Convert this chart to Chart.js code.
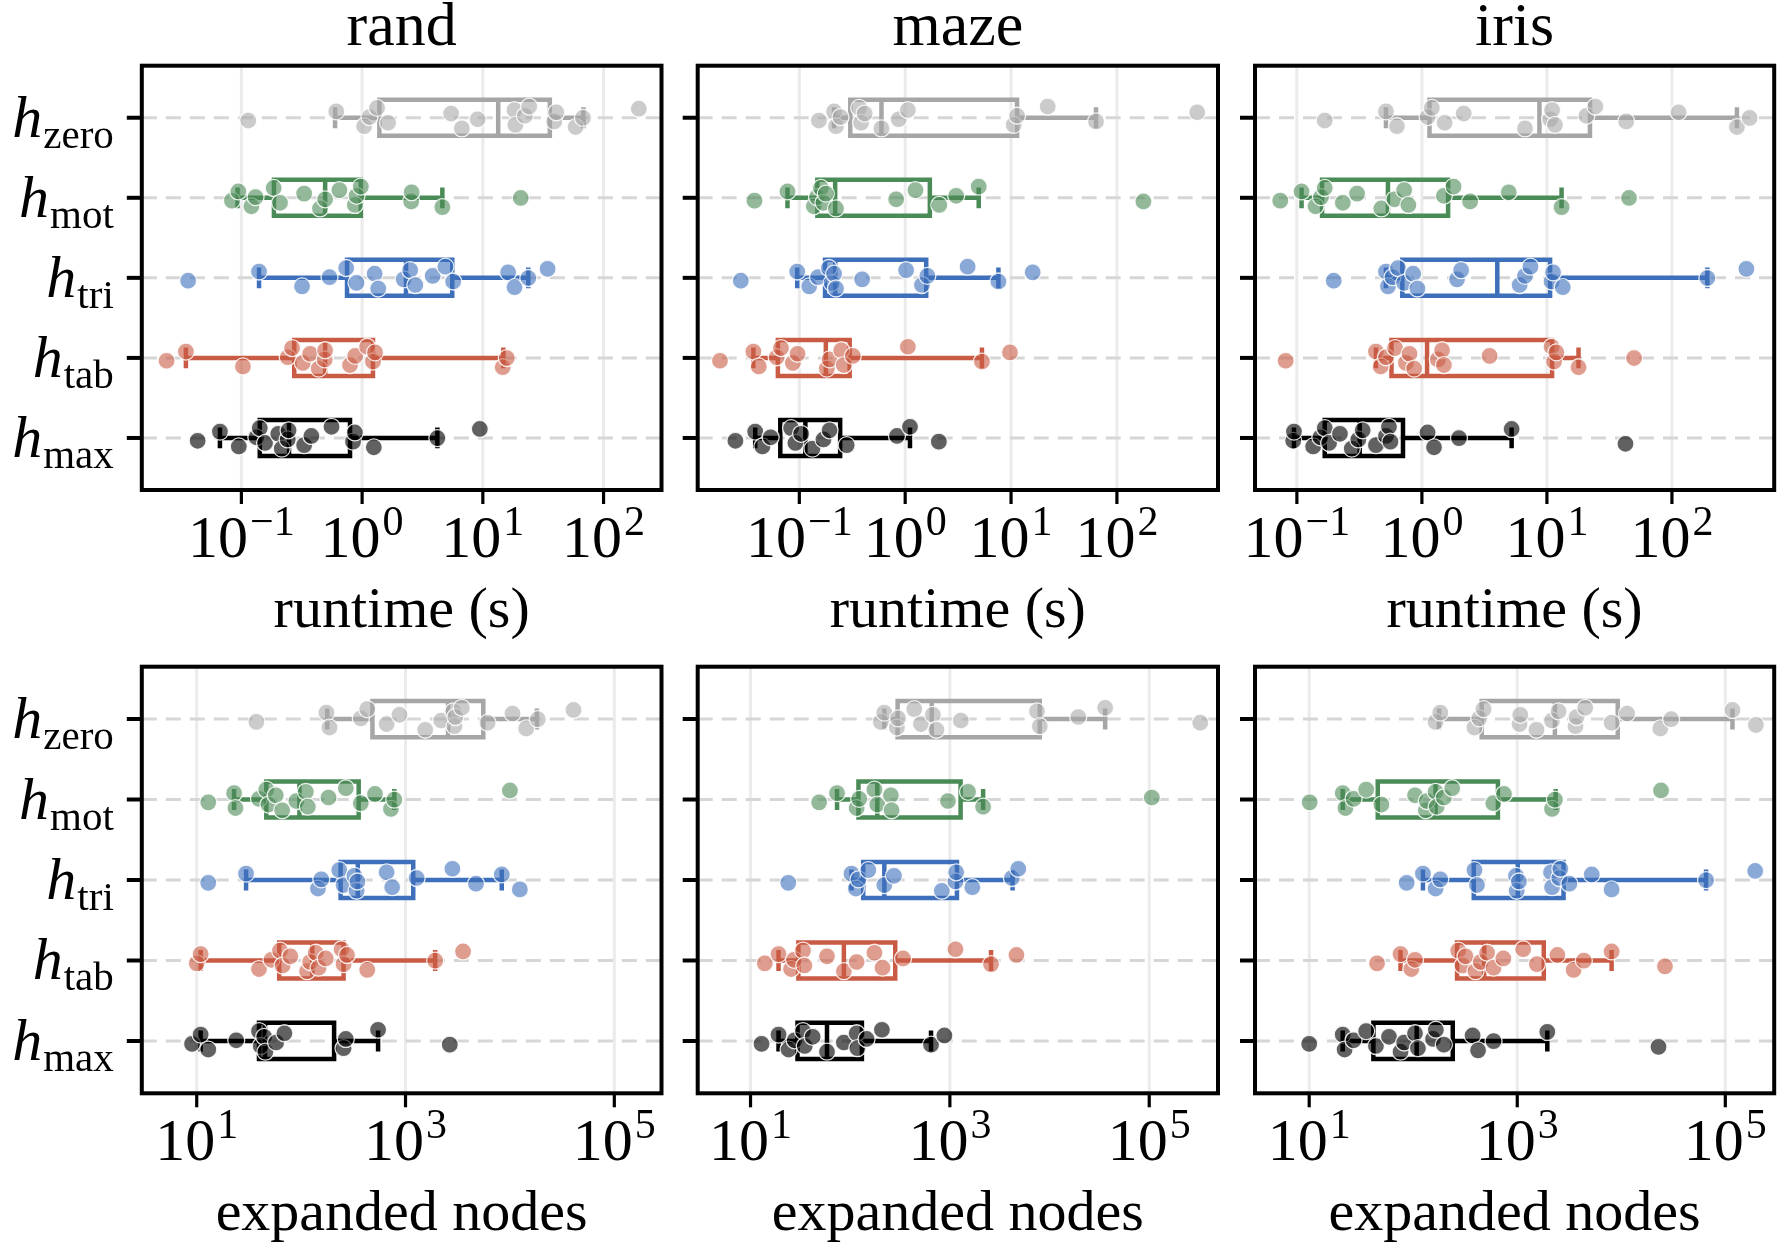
<!DOCTYPE html>
<html>
<head>
<meta charset="utf-8">
<script src="https://cdn.jsdelivr.net/npm/chart.js@4.4.1/dist/chart.umd.min.js"></script>
<style>
  html, body { margin: 0; padding: 0; background: #fff; }
  #wrap { position: relative; width: 1784px; height: 1246px; }
  #wrap canvas { position: absolute; left: 0; top: 0; }
</style>
</head>
<body>
<div id="wrap"></div>
<script>
// heuristics, top to bottom
var heuristics = ['zero', 'mot', 'tri', 'tab', 'max'];
var runtimeTickExps = [-1, 0, 1, 2];
var nodesTickExps = [1, 3, 5];

// runtime (s), one list per heuristic
var randRuntime = [
  [0.114, 0.611, 1.04, 1.15, 1.33, 1.64, 5.46, 6.70, 9.06, 18.3, 18.6, 22.3, 24.2, 39.0, 40.6, 58.7, 67.5, 196],
  [0.0835, 0.0944, 0.121, 0.131, 0.185, 0.209, 0.331, 0.448, 0.494, 0.648, 0.871, 0.899, 0.976, 2.55, 2.57, 4.62, 20.6],
  [0.0362, 0.140, 0.318, 0.537, 0.738, 0.899, 1.27, 1.36, 2.21, 2.50, 2.76, 3.84, 4.90, 5.68, 16.2, 18.3, 23.8, 34.4],
  [0.0240, 0.0347, 0.103, 0.242, 0.263, 0.323, 0.371, 0.437, 0.490, 0.494, 0.794, 0.877, 1.10, 1.23, 1.28, 14.6, 15.8],
  [0.0434, 0.0664, 0.0952, 0.133, 0.142, 0.157, 0.202, 0.216, 0.242, 0.246, 0.331, 0.380, 0.558, 0.841, 0.871, 1.25, 4.20, 9.44]
];
var mazeRuntime = [
  [0.153, 0.213, 0.222, 0.245, 0.368, 0.383, 0.414, 0.597, 0.869, 1.06, 10.6, 11.4, 22.2, 63.5, 574],
  [0.0377, 0.0773, 0.137, 0.147, 0.160, 0.169, 0.178, 0.222, 0.822, 1.25, 2.10, 3.03, 4.95, 178],
  [0.0280, 0.0955, 0.124, 0.150, 0.190, 0.202, 0.213, 0.222, 0.392, 1.02, 1.44, 1.62, 3.89, 7.60, 16.0],
  [0.0178, 0.0368, 0.0414, 0.0611, 0.0671, 0.0869, 0.0962, 0.182, 0.193, 0.249, 0.263, 0.320, 1.06, 5.31, 9.77],
  [0.0249, 0.0383, 0.0448, 0.0536, 0.0836, 0.0918, 0.104, 0.133, 0.169, 0.193, 0.280, 0.836, 1.11, 2.08]
];
var irisRuntime = [
  [0.167, 0.516, 0.631, 1.11, 1.20, 1.52, 2.16, 6.68, 10.6, 11.0, 11.6, 20.7, 24.4, 43.1, 113, 331, 418],
  [0.0736, 0.109, 0.141, 0.156, 0.167, 0.233, 0.303, 0.474, 0.603, 0.721, 0.780, 1.50, 1.79, 2.43, 4.95, 13.1, 45.4],
  [0.197, 0.516, 0.535, 0.582, 0.644, 0.721, 0.851, 0.921, 1.91, 2.06, 6.05, 6.68, 7.38, 10.9, 11.2, 13.4, 192, 394],
  [0.0813, 0.429, 0.468, 0.516, 0.610, 0.745, 0.796, 0.867, 1.34, 1.45, 1.50, 3.48, 10.9, 11.4, 11.9, 17.9, 49.8],
  [0.0935, 0.0948, 0.135, 0.154, 0.167, 0.181, 0.221, 0.275, 0.310, 0.336, 0.429, 0.516, 0.545, 0.560, 1.11, 1.25, 1.98, 5.22, 42.5]
];

// expanded nodes, one list per heuristic
var randNodes = [
  [37.3, 175, 187, 373, 430, 659, 875, 1545, 2200, 2864, 2944, 3000, 3459, 6109, 10590, 14330, 18500, 40640],
  [12.9, 22.8, 23.5, 39.5, 46.4, 48.7, 57.2, 65.9, 90.1, 111, 116, 183, 268, 373, 510, 725, 781, 10000],
  [12.9, 29.7, 145, 156, 232, 255, 324, 340, 346, 659, 745, 1279, 2811, 4732, 8356, 12450],
  [10.0, 10.9, 39.5, 52.0, 62.8, 66.5, 78.9, 114, 122, 138, 147, 172, 244, 255, 275, 430, 1923, 3559],
  [9.02, 10.9, 12.9, 23.9, 39.5, 41.0, 44.3, 45.5, 57.7, 69.2, 255, 268, 546, 2655]
];
var mazeNodes = [
  [203, 220, 294, 302, 439, 513, 675, 733, 1288, 7482, 7980, 19410, 36140, 325100],
  [48.8, 73.8, 116, 123, 175, 187, 256, 260, 957, 1521, 2155, 106200],
  [23.9, 103, 114, 121, 152, 220, 275, 830, 1138, 1157, 1680, 4188, 4856],
  [13.9, 19.1, 25.5, 27.3, 33.6, 34.7, 58.5, 86.4, 116, 175, 211, 339, 1138, 2588, 4656],
  [12.9, 19.1, 24.1, 27.7, 33.6, 35.0, 42.0, 58.5, 86.4, 116, 118, 146, 208, 647, 881]
];
var irisNodes = [
  [164, 182, 388, 431, 474, 1052, 1069, 1531, 2159, 2494, 3630, 3717, 4500, 8073, 11380, 23720, 30150, 117200, 196800],
  [10.1, 21.0, 22.3, 26.7, 35.3, 49.4, 104, 132, 135, 164, 168, 197, 237, 588, 746, 2159, 2301, 24100],
  [86.5, 124, 164, 182, 388, 410, 972, 988, 1037, 2109, 2159, 2535, 2596, 3170, 5202, 8073, 65330, 193700],
  [44.9, 75.5, 95.9, 104, 271, 298, 318, 397, 445, 513, 592, 735, 1140, 1545, 2432, 3483, 4365, 8073, 26300],
  [10.0, 21.0, 21.9, 26.7, 35.3, 43.8, 58.5, 75.5, 81.8, 104, 111, 155, 165, 197, 372, 420, 592, 1945, 22800]
];

// box stats: [whisker low, q1, median, q3, whisker high]
var randRuntimeBox = [[0.597, 1.39, 13.4, 35.9, 68.1], [0.0929, 0.186, 0.494, 0.976, 4.62], [0.140, 0.750, 2.31, 5.58, 23.8], [0.0347, 0.274, 0.494, 1.23, 14.8], [0.0664, 0.142, 0.248, 0.794, 4.20]];
var mazeRuntimeBox = [[0.213, 0.303, 0.597, 11.4, 63.5], [0.0773, 0.148, 0.218, 1.71, 4.95], [0.0955, 0.175, 0.218, 1.58, 7.60], [0.0368, 0.0627, 0.178, 0.299, 5.31], [0.0383, 0.0661, 0.114, 0.243, 1.11]];
var irisRuntimeBox = [[0.516, 1.15, 8.71, 22.1, 331], [0.109, 0.159, 0.535, 1.62, 13.1], [0.516, 0.697, 4.01, 10.6, 192], [0.429, 0.571, 1.10, 11.0, 17.9], [0.0948, 0.167, 0.318, 0.706, 5.22]];
var randNodesBox = [[178, 482, 2553, 5559, 18150], [22.8, 46.4, 96.4, 356, 781], [29.7, 239, 349, 1186, 8356], [10.9, 61.7, 128, 255, 1923], [10.9, 39.5, 45.1, 207, 546]];
var mazeNodesBox = [[220, 299, 658, 7980, 36140], [73.8, 121, 187, 1281, 2155], [103, 135, 220, 1177, 4256], [19.1, 30.2, 86.4, 283, 2588], [19.1, 29.6, 58.5, 131, 647]];
var irisNodesBox = [[177, 455, 2301, 9250, 117200], [21.0, 45.6, 164, 652, 2339], [124, 382, 1012, 2786, 65330], [75.5, 264, 481, 1799, 8073], [21.0, 41.4, 108, 240, 1945]];

var W = 1784, H = 1246;
var FONT = '"Liberation Serif", "DejaVu Serif", serif';
var boxColors = ['#a6a6a6', '#4b8b57', '#3e6fba', '#c95b45', '#000000'];
var dotColors = ['rgba(168,168,168,0.6)', 'rgba(75,139,87,0.6)', 'rgba(62,111,186,0.6)', 'rgba(201,91,69,0.6)', 'rgba(0,0,0,0.62)'];
var BH = 0.225, CAP = 0.13;

// deterministic strip jitter
function jit(k) {
  return (((k + 1) * 0.6180339887) % 1 - 0.5) * 0.3;
}

function boxPath(b, i) {
  var lo = b[0], q1 = b[1], med = b[2], q3 = b[3], hi = b[4];
  var gap = {x: med, y: null};
  return [
    {x: q1, y: i - BH}, {x: q3, y: i - BH}, {x: q3, y: i + BH}, {x: q1, y: i + BH}, {x: q1, y: i - BH}, {x: q3, y: i - BH}, gap,
    {x: med, y: i - BH}, {x: med, y: i + BH}, gap,
    {x: lo, y: i}, {x: q1, y: i}, gap,
    {x: q3, y: i}, {x: hi, y: i}, gap,
    {x: lo, y: i - CAP}, {x: lo, y: i + CAP}, gap,
    {x: hi, y: i - CAP}, {x: hi, y: i + CAP}
  ];
}

function line(ctx, x1, y1, x2, y2) {
  ctx.beginPath(); ctx.moveTo(x1, y1); ctx.lineTo(x2, y2); ctx.stroke();
}

var panelDecor = {
  id: 'panelDecor',
  beforeDatasetsDraw: function(chart, args, o) {
    var ctx = chart.ctx, a = chart.chartArea, x = chart.scales.x, y = chart.scales.y;
    ctx.save();
    ctx.strokeStyle = '#ebebeb'; ctx.lineWidth = 3;
    o.ticks.forEach(function(e) {
      var px = x.getPixelForValue(Math.pow(10, e));
      line(ctx, px, a.top, px, a.bottom);
    });
    ctx.strokeStyle = '#d6d6d6'; ctx.lineWidth = 3; ctx.setLineDash([15, 9]);
    heuristics.forEach(function(h, i) {
      var py = y.getPixelForValue(i);
      line(ctx, a.left, py, a.right, py);
    });
    ctx.restore();
  },
  afterDraw: function(chart, args, o) {
    var ctx = chart.ctx, a = chart.chartArea, x = chart.scales.x, y = chart.scales.y;
    ctx.save();
    ctx.strokeStyle = '#000'; ctx.fillStyle = '#000';
    ctx.lineWidth = 4;
    ctx.strokeRect(a.left, a.top, a.right - a.left, a.bottom - a.top);
    // tick marks
    ctx.lineWidth = 3.2;
    o.ticks.forEach(function(e) {
      var px = x.getPixelForValue(Math.pow(10, e));
      line(ctx, px, a.bottom, px, a.bottom + 14);
    });
    ctx.lineWidth = 4;
    heuristics.forEach(function(h, i) {
      var py = y.getPixelForValue(i);
      line(ctx, a.left - 15, py, a.left, py);
    });
    // x tick labels 10^e
    ctx.textBaseline = 'alphabetic'; ctx.textAlign = 'left';
    o.ticks.forEach(function(e) {
      var px = x.getPixelForValue(Math.pow(10, e));
      var base = '10', sup = e < 0 ? '\u2212' + (-e) : String(e);
      ctx.font = '60px ' + FONT; var wb = ctx.measureText(base).width;
      ctx.font = '42px ' + FONT; var ws = ctx.measureText(sup).width;
      var x0 = px - (wb + ws + 2) / 2, by = a.bottom + 67;
      ctx.font = '60px ' + FONT; ctx.fillText(base, x0, by);
      ctx.font = '42px ' + FONT; ctx.fillText(sup, x0 + wb + 2, by - 22);
    });
    // axis label and title
    ctx.textAlign = 'center';
    ctx.font = '58px ' + FONT;
    ctx.fillText(o.xlabel, (a.left + a.right) / 2, a.bottom + 137);
    if (o.title) {
      ctx.font = '62px ' + FONT;
      ctx.fillText(o.title, (a.left + a.right) / 2, a.top - 21);
    }
    // y labels h_sub
    if (o.ylabels) {
      ctx.textAlign = 'left';
      heuristics.forEach(function(h, i) {
        var py = y.getPixelForValue(i), right = a.left - 28;
        ctx.font = '41px ' + FONT; var ws = ctx.measureText(h).width;
        ctx.font = 'italic 60px ' + FONT; var wh = ctx.measureText('h').width;
        ctx.fillText('h', right - ws - wh - 1, py + 19);
        ctx.font = '41px ' + FONT;
        ctx.fillText(h, right - ws, py + 30);
      });
    }
    ctx.restore();
  }
};

var panels = [
  {vals: randRuntime, box: randRuntimeBox, left: 141.8, right: 661.5, top: 65.7, bottom: 490, lo: -1.825, hi: 2.48, ticks: runtimeTickExps, title: 'rand', xlabel: 'runtime (s)', ylabels: true},
  {vals: mazeRuntime, box: mazeRuntimeBox, left: 697.7, right: 1218, top: 65.7, bottom: 490, lo: -1.96, hi: 2.955, ticks: runtimeTickExps, title: 'maze', xlabel: 'runtime (s)', ylabels: false},
  {vals: irisRuntime, box: irisRuntimeBox, left: 1255, right: 1775, top: 65.7, bottom: 490, lo: -1.335, hi: 2.818, ticks: runtimeTickExps, title: 'iris', xlabel: 'runtime (s)', ylabels: false},
  {vals: randNodes, box: randNodesBox, left: 141.8, right: 661.5, top: 666.7, bottom: 1093.3, lo: 0.474, hi: 5.452, ticks: nodesTickExps, title: null, xlabel: 'expanded nodes', ylabels: true},
  {vals: mazeNodes, box: mazeNodesBox, left: 697.7, right: 1218, top: 666.7, bottom: 1093.3, lo: 0.47, hi: 5.69, ticks: nodesTickExps, title: null, xlabel: 'expanded nodes', ylabels: false},
  {vals: irisNodes, box: irisNodesBox, left: 1255, right: 1775, top: 666.7, bottom: 1093.3, lo: 0.479, hi: 5.47, ticks: nodesTickExps, title: null, xlabel: 'expanded nodes', ylabels: false}
];

var wrap = document.getElementById('wrap');
panels.forEach(function(p) {
  var canvas = document.createElement('canvas');
  canvas.width = W; canvas.height = H;
  wrap.appendChild(canvas);

  var datasets = [];
  heuristics.forEach(function(h, i) {
    datasets.push({
      data: p.vals[i].map(function(v, k) { return {x: v, y: i + jit(k)}; }),
      backgroundColor: dotColors[i],
      borderColor: 'rgba(255,255,255,0.85)',
      borderWidth: 1.3,
      pointRadius: 8.5,
      pointHoverRadius: 8.5,
      order: 0
    });
    datasets.push({
      data: boxPath(p.box[i], i),
      showLine: true,
      spanGaps: false,
      borderColor: boxColors[i],
      borderWidth: 4.5,
      borderJoinStyle: 'miter',
      borderCapStyle: 'butt',
      pointRadius: 0,
      pointHoverRadius: 0,
      fill: false,
      order: 1
    });
  });

  new Chart(canvas, {
    type: 'scatter',
    data: {datasets: datasets},
    options: {
      responsive: false,
      animation: false,
      events: [],
      layout: {padding: {left: p.left, top: p.top, right: W - p.right, bottom: H - p.bottom}},
      scales: {
        x: {type: 'logarithmic', display: false, min: Math.pow(10, p.lo), max: Math.pow(10, p.hi)},
        y: {type: 'linear', display: false, min: -0.65, max: 4.65, reverse: true}
      },
      plugins: {
        legend: {display: false},
        tooltip: {enabled: false},
        panelDecor: {ticks: p.ticks, title: p.title, xlabel: p.xlabel, ylabels: p.ylabels}
      }
    },
    plugins: [panelDecor]
  });
});
</script>
</body>
</html>
